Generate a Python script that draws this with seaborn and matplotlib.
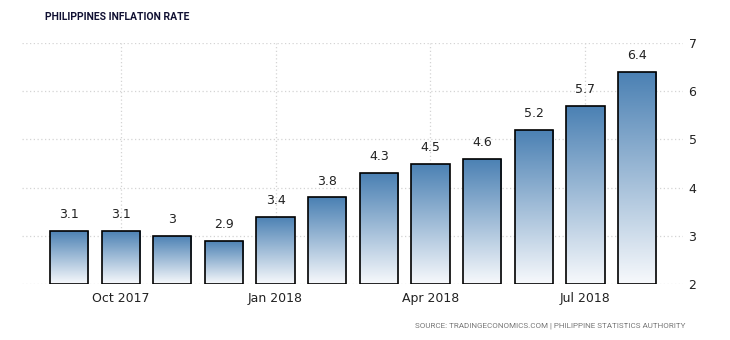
import numpy as np
import pandas as pd
import matplotlib
matplotlib.use("Agg")
import matplotlib.pyplot as plt
import seaborn as sns
from matplotlib.colors import LinearSegmentedColormap

months = ["Sep 2017", "Oct 2017", "Nov 2017", "Dec 2017", "Jan 2018", "Feb 2018",
          "Mar 2018", "Apr 2018", "May 2018", "Jun 2018", "Jul 2018", "Aug 2018"]
values = [3.1, 3.1, 3.0, 2.9, 3.4, 3.8, 4.3, 4.5, 4.6, 5.2, 5.7, 6.4]
value_labels = ["3.1", "3.1", "3", "2.9", "3.4", "3.8", "4.3", "4.5", "4.6", "5.2", "5.7", "6.4"]
tick_months = ["Oct 2017", "Jan 2018", "Apr 2018", "Jul 2018"]
y_ticks = [2, 3, 4, 5, 6, 7]

sns.set_theme(style="white")
plt.rcParams['font.family'] = ['DejaVu Sans']

fig = plt.figure(figsize=(7.3, 3.4), dpi=100)
ax = fig.add_axes([22/730, 56/340, (683-22)/730, (284-43)/340])

df = pd.DataFrame({"month": months, "value": values})
# bars start at base 2 (axis minimum)
df["height"] = df["value"] - 2
sns.barplot(data=df, x="month", y="height", bottom=2, width=0.74,
            color="white", edgecolor="black", linewidth=1.2, ax=ax, zorder=3)

ax.set_xlim(-0.91, 11.89)
ax.set_ylim(2, 7)

cmap = LinearSegmentedColormap.from_list("g", ["#f7f9fc", "#4a80b3"])
grad = np.linspace(0, 1, 256).reshape(-1, 1)
for p in ax.patches:
    x0, y0 = p.get_x(), p.get_y()
    w, h = p.get_width(), p.get_height()
    im = ax.imshow(grad, cmap=cmap, origin="lower", aspect="auto",
                   extent=(x0, x0 + w, y0, y0 + h), zorder=2.5)
    im.set_clip_path(p)
    p.set_facecolor("none")
    p.set_joinstyle("miter")
    p.set_zorder(4)

for i, (v, lab) in enumerate(zip(values, value_labels)):
    ax.text(i, v + 0.2, lab, ha="center", va="bottom", fontsize=9, color="#222222")

# axes styling
for s in ax.spines.values():
    s.set_visible(False)
ax.set_xlabel("")
ax.set_ylabel("")
ax.set_yticks(y_ticks)
ax.set_yticklabels([str(t) for t in y_ticks])
ax.yaxis.tick_right()
ax.tick_params(axis="y", length=0, pad=4, labelsize=9, labelcolor="#222222")
xt = [months.index(m) for m in tick_months]
ax.set_xticks(xt)
ax.set_xticklabels(tick_months)
ax.tick_params(axis="x", length=0, pad=6, labelsize=9, labelcolor="#222222")
ax.grid(True, axis="both", color="#d4d4d4", linestyle=(0, (1, 2)), linewidth=0.9, zorder=0)
ax.set_axisbelow(True)

fig.text(45/730, 1 - 17/340, "PHILIPPINES INFLATION RATE", fontsize=7.5,
         fontweight="bold", family=["Roboto", "DejaVu Sans"],
         color="#111133", va="center", ha="left")
fig.text(685/730, 1 - 326/340,
         "SOURCE: TRADINGECONOMICS.COM | PHILIPPINE STATISTICS AUTHORITY",
         fontsize=5.8, family=["Roboto", "DejaVu Sans"],
         color="#777777", va="center", ha="right")

fig.savefig("out.png", dpi=100)
